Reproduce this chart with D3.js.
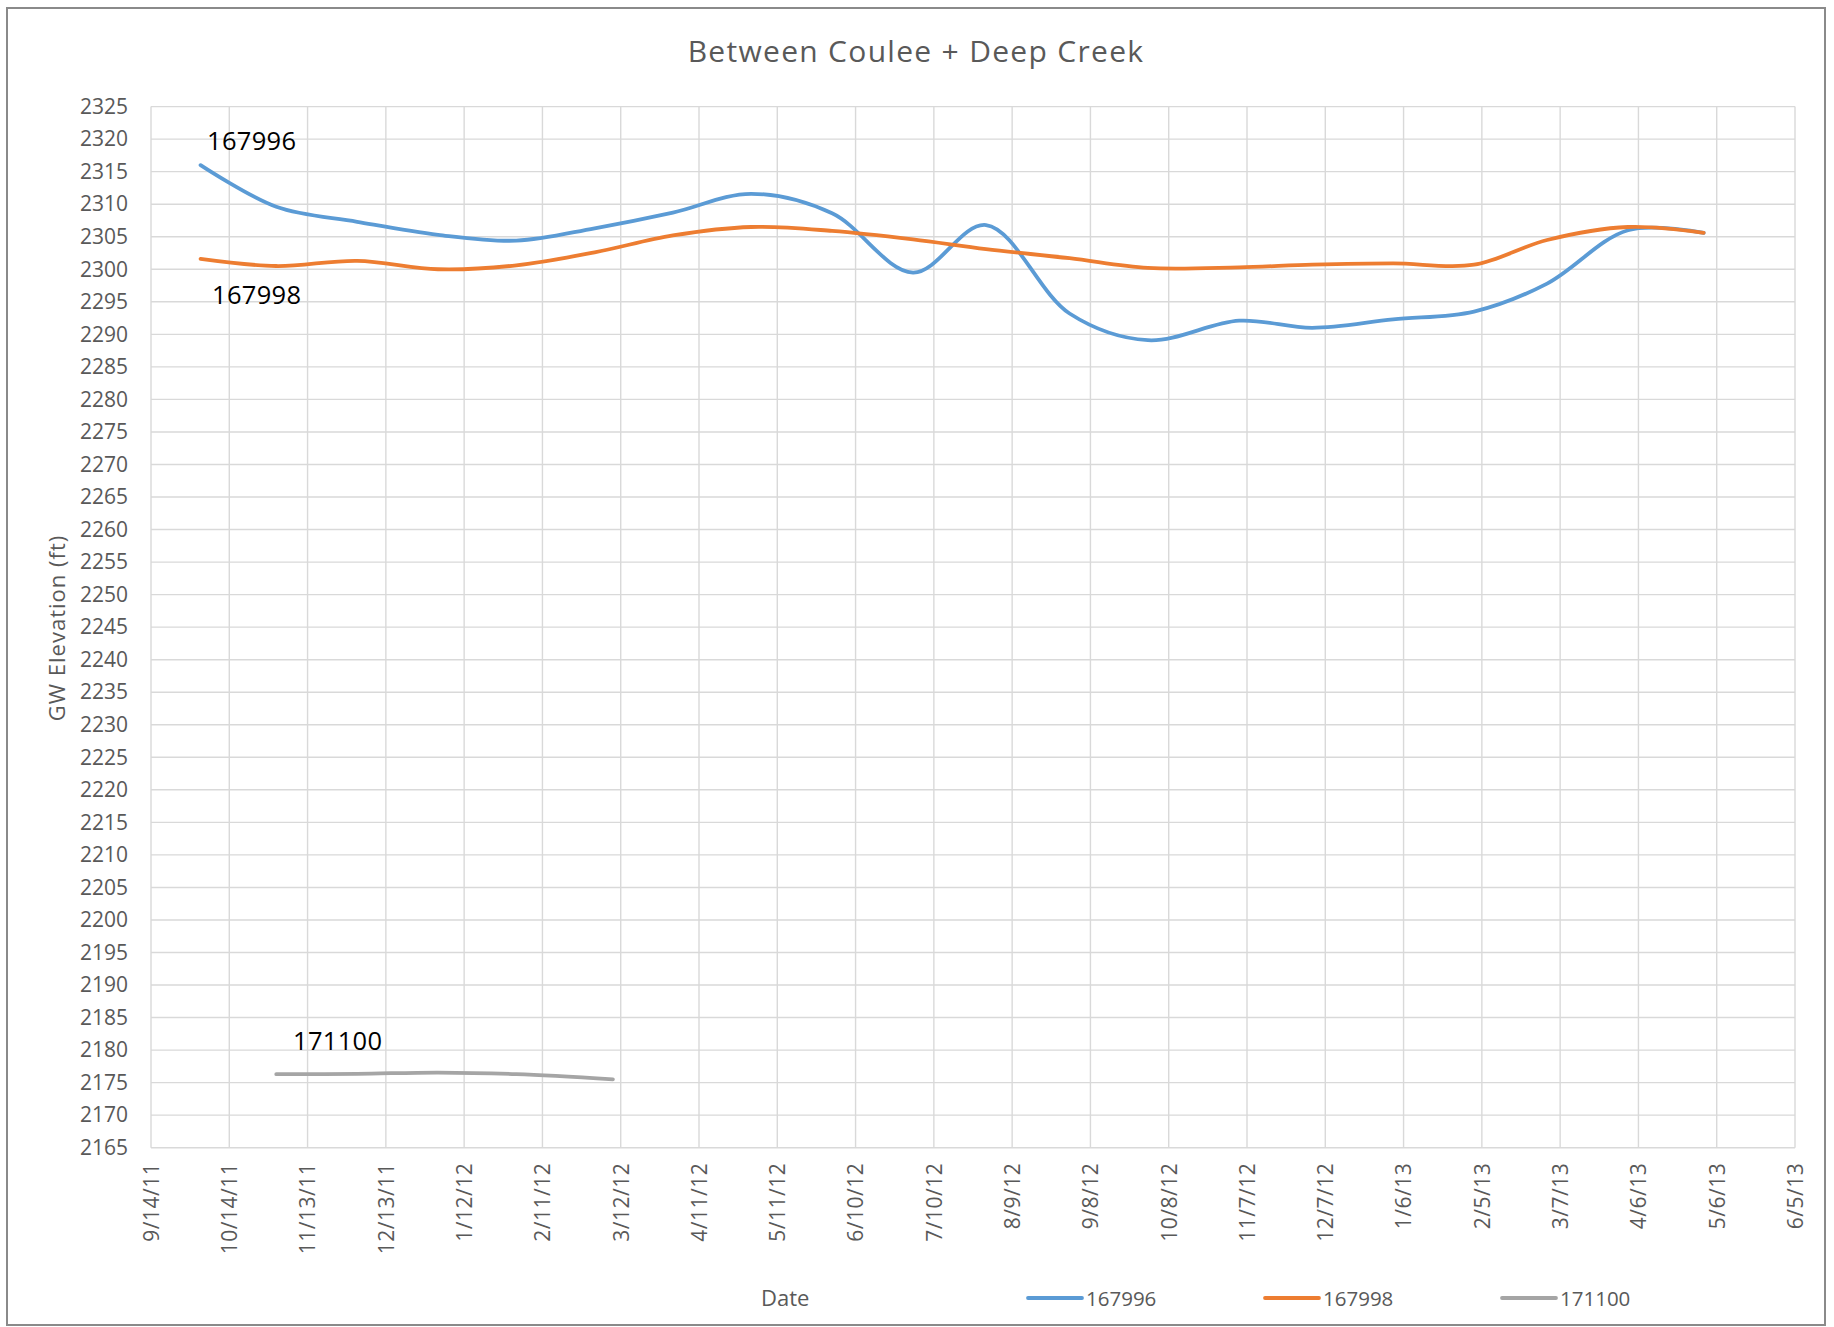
<!DOCTYPE html>
<html>
<head>
<meta charset="utf-8">
<script src="https://cdn.jsdelivr.net/npm/d3@7"></script>
<style>
  body { margin: 0; background: #fff; }
  text { font-family: "Open Sans", sans-serif; }
</style>
</head>
<body>
<script>
// tick labels (30 day steps, as in the sheet)
var xTickLabels = ["9/14/11", "10/14/11", "11/13/11", "12/13/11", "1/12/12", "2/11/12", "3/12/12", "4/11/12",
  "5/11/12", "6/10/12", "7/10/12", "8/9/12", "9/8/12", "10/8/12", "11/7/12", "12/7/12", "1/6/13", "2/5/13",
  "3/7/13", "4/6/13", "5/6/13", "6/5/13"];
var yTicks = d3.range(2165, 2326, 5);

// well readings
var wellDates = ["10/3/11", "11/1/11", "12/2/11", "1/2/12", "2/1/12", "3/2/12", "4/1/12", "5/1/12", "6/1/12",
  "7/2/12", "7/30/12", "8/31/12", "9/30/12", "11/4/12", "12/2/12", "1/2/13", "2/2/13", "3/2/13", "4/2/13", "5/1/13"];
var well167996 = [2316.0, 2309.6, 2307.3, 2305.3, 2304.4, 2306.3, 2308.7, 2311.6, 2308.6, 2299.5,
  2306.8, 2293.2, 2289.1, 2292.1, 2291.0, 2292.3, 2293.5, 2297.8, 2306.0, 2305.6];
var well167998 = [2301.6, 2300.5, 2301.3, 2300.0, 2300.6, 2302.6, 2305.2, 2306.5, 2305.9, 2304.6,
  2303.1, 2301.7, 2300.2, 2300.3, 2300.7, 2300.9, 2300.7, 2304.5, 2306.5, 2305.6];
var dates171100 = ["11/1/11", "12/2/11", "1/2/12", "2/1/12", "3/9/12"];
var well171100 = [2176.3, 2176.35, 2176.55, 2176.3, 2175.5];

var seriesNames = ["167996", "167998", "171100"];
var colors = ["#5B9BD5", "#ED7D31", "#A5A5A5"];

var width = 1834,
  height = 1327,
  plotLeft = 151,
  plotRight = 1795,
  plotTop = 106.6,
  plotBottom = 1147.7;

var parse = d3.utcParse("%m/%d/%y");

var x = d3.scaleUtc()
  .domain([parse(xTickLabels[0]), parse(xTickLabels[xTickLabels.length - 1])])
  .range([plotLeft, plotRight]);
var y = d3.scaleLinear()
  .domain([2165, 2325])
  .range([plotBottom, plotTop]);

var svg = d3.select("body").append("svg")
  .attr("width", width)
  .attr("height", height);

svg.append("rect")
  .attr("x", 7).attr("y", 8)
  .attr("width", 1818).attr("height", 1317)
  .attr("fill", "#fff")
  .attr("stroke", "#8a8a8a")
  .attr("stroke-width", 2);

svg.append("text")
  .attr("x", 916).attr("y", 62)
  .attr("text-anchor", "middle")
  .attr("font-size", 30)
  .attr("letter-spacing", 1.3)
  .attr("fill", "#595959")
  .text("Between Coulee + Deep Creek");

// grid
var tickDates = xTickLabels.map(parse);
svg.append("g").selectAll("line")
  .data(yTicks)
  .enter().append("line")
  .attr("x1", plotLeft).attr("x2", plotRight)
  .attr("y1", function (d) { return y(d); })
  .attr("y2", function (d) { return y(d); })
  .attr("stroke", "#d9d9d9")
  .attr("stroke-width", 1.4);
svg.append("g").selectAll("line")
  .data(tickDates)
  .enter().append("line")
  .attr("x1", function (d) { return x(d); })
  .attr("x2", function (d) { return x(d); })
  .attr("y1", plotTop).attr("y2", plotBottom)
  .attr("stroke", "#d9d9d9")
  .attr("stroke-width", 1.4);

// axes
var yAxis = svg.append("g")
  .attr("transform", "translate(" + plotLeft + ",0)")
  .call(d3.axisLeft(y).tickValues(yTicks).tickSize(0).tickPadding(23).tickFormat(d3.format("d")));
yAxis.select(".domain").remove();
yAxis.selectAll("text")
  .attr("font-size", 21)
  .attr("font-family", "Open Sans")
  .attr("fill", "#595959");

var xAxis = svg.append("g")
  .attr("transform", "translate(0," + plotBottom + ")")
  .call(d3.axisBottom(x).tickValues(tickDates).tickSize(0).tickFormat(function (d, i) { return xTickLabels[i]; }));
xAxis.select(".domain").remove();
xAxis.selectAll("text")
  .attr("transform", "rotate(-90)")
  .attr("text-anchor", "end")
  .attr("x", -15)
  .attr("y", 0)
  .attr("dy", "0.35em")
  .attr("font-size", 21)
  .attr("font-family", "Open Sans")
  .attr("letter-spacing", 0.5)
  .attr("fill", "#595959");

svg.append("text")
  .attr("transform", "translate(57,628) rotate(-90)")
  .attr("text-anchor", "middle")
  .attr("dy", "0.35em")
  .attr("font-size", 22)
  .attr("letter-spacing", 1)
  .attr("fill", "#595959")
  .text("GW Elevation (ft)");

svg.append("text")
  .attr("x", 761).attr("y", 1306)
  .attr("font-size", 22)
  .attr("fill", "#595959")
  .text("Date");

// lines
var line = d3.line()
  .curve(d3.curveCatmullRom.alpha(0.5))
  .x(function (d) { return x(d[0]); })
  .y(function (d) { return y(d[1]); });

var series = [
  d3.zip(wellDates.map(parse), well167996),
  d3.zip(wellDates.map(parse), well167998),
  d3.zip(dates171100.map(parse), well171100)
];

svg.append("g").selectAll("path")
  .data(series)
  .enter().append("path")
  .attr("d", line)
  .attr("fill", "none")
  .attr("stroke", function (d, i) { return colors[i]; })
  .attr("stroke-width", 3.8)
  .attr("stroke-linecap", "round");

// data labels
var labelPos = [[207, 150], [212, 304], [293, 1050]];
svg.append("g").selectAll("text")
  .data(seriesNames)
  .enter().append("text")
  .attr("x", function (d, i) { return labelPos[i][0]; })
  .attr("y", function (d, i) { return labelPos[i][1]; })
  .attr("font-size", 25.5)
  .attr("letter-spacing", 0.3)
  .attr("fill", "#000")
  .text(function (d) { return d; });

// legend
var legendX = [1028, 1265, 1502];
var legend = svg.append("g").selectAll("g")
  .data(seriesNames)
  .enter().append("g")
  .attr("transform", function (d, i) { return "translate(" + legendX[i] + ",1298)"; });
legend.append("line")
  .attr("x1", 0).attr("x2", 54)
  .attr("stroke", function (d, i) { return colors[i]; })
  .attr("stroke-width", 3.8)
  .attr("stroke-linecap", "round");
legend.append("text")
  .attr("x", 58)
  .attr("y", 7.5)
  .attr("font-size", 20.5)
  .attr("fill", "#595959")
  .text(function (d) { return d; });
</script>
</body>
</html>
